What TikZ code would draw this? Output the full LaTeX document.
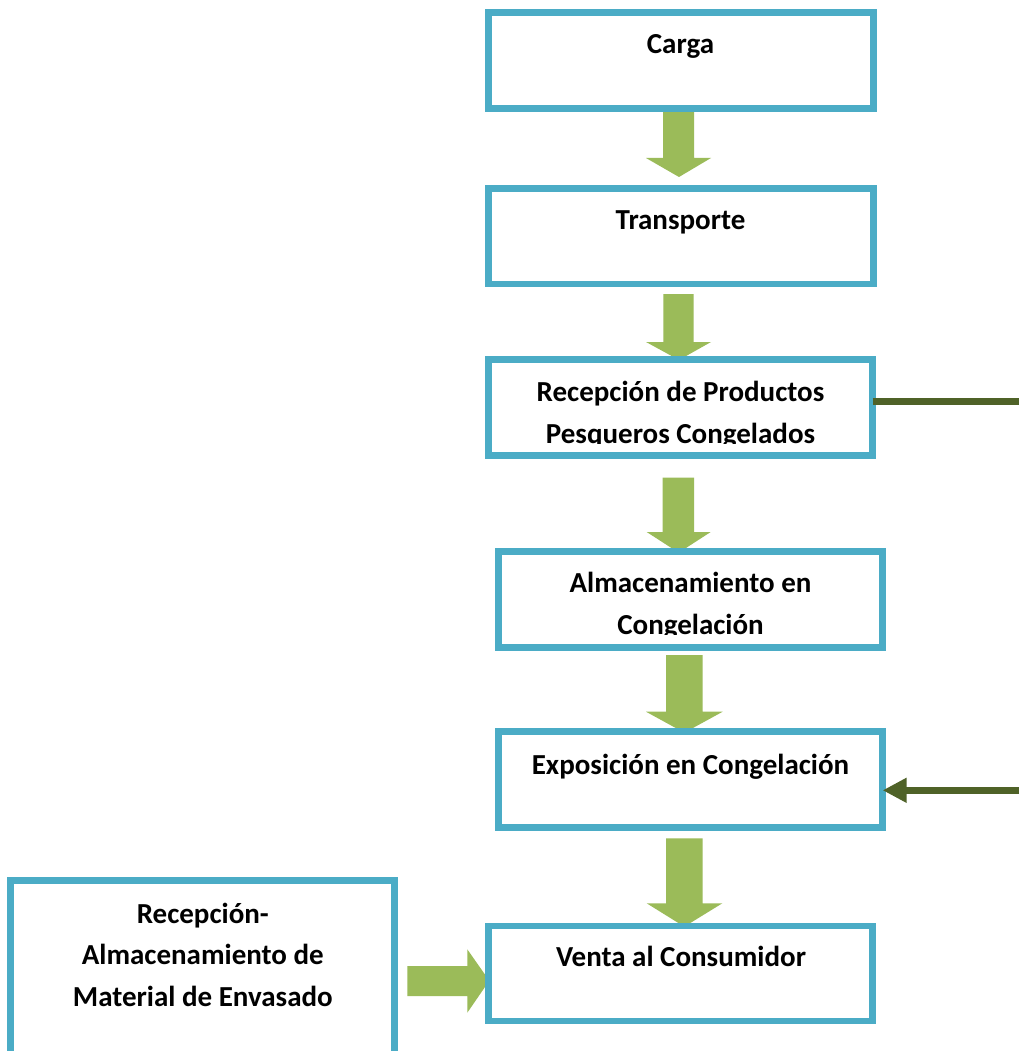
\documentclass[tikz,border=0pt]{standalone}
\usepackage{fontspec}
\setmainfont{Carlito}
\usetikzlibrary{arrows.meta}

\definecolor{boxblue}{HTML}{4BACC6}
\definecolor{flowgreen}{HTML}{9BBB59}
\definecolor{linkgreen}{HTML}{4F6228}

\tikzset{
  stagebox/.style={draw=boxblue, line width=6.7pt, fill=white, rectangle,
    inner sep=0pt, outer sep=0pt},
  stagetext/.style={anchor=base, inner sep=0pt, outer sep=0pt,
    font=\fontsize{29}{42}\selectfont\bfseries},
  blockarrow/.style={fill=flowgreen, draw=none},
  sideline/.style={draw=linkgreen, line width=7.3pt},
  sidearrow/.style={draw=linkgreen, line width=7.3pt,
    -{Triangle[length=24pt,width=23.5pt]}}
}

% down-pointing block arrow: #1 shaft left, #2 shaft right, #3 head left,
% #4 head right, #5 tip x, #6 shaft top, #7 head top, #8 tip y
\newcommand{\downblock}[8]{%
  \fill[blockarrow] (#1,#6) -- (#2,#6) -- (#2,#7) -- (#4,#7) -- (#5,#8)
    -- (#3,#7) -- (#1,#7) -- cycle;}

\begin{document}
\begin{tikzpicture}[x=1pt, y=-1pt]
  \useasboundingbox (0,0) rectangle (1019,1051);
  \fill[white] (0,0) rectangle (1019,1051);

  % block arrows between the stages
  \downblock{663}{694}{646}{711}{679}{108}{158}{177}
  \downblock{663.3}{693.7}{646}{711}{679}{294}{342}{360}
  \downblock{662.7}{694}{646.7}{710.7}{678.7}{477.7}{532}{552.7}
  \downblock{666}{702.7}{646}{722.7}{684.3}{655}{711.7}{732.7}
  \downblock{666}{702.7}{646.7}{722.3}{684.3}{838.3}{903.3}{926.7}
  \fill[blockarrow] (407.3,966) -- (467.3,966) -- (467.3,949.3) -- (489.3,980.7)
    -- (467.3,1012.7) -- (467.3,996) -- (407.3,996) -- cycle;

  % stage boxes
  \node[stagebox, minimum width=385pt, minimum height=96pt]   (b1) at (680.85,60.35) {};
  \node[stagebox, minimum width=385pt, minimum height=95.6pt] (b2) at (680.85,236.15) {};
  \node[stagebox, minimum width=384.3pt, minimum height=95.8pt] (b3) at (680.5,407.25) {};
  \node[stagebox, minimum width=384.3pt, minimum height=95.7pt] (b4) at (690.5,599.5) {};
  \node[stagebox, minimum width=384.3pt, minimum height=96pt]   (b5) at (690.5,779.65) {};
  \node[stagebox, minimum width=384.3pt, minimum height=95pt]   (b6) at (680.5,973.5) {};
  \node[stagebox, minimum width=384pt, minimum height=173.5pt]  (b7) at (202.65,967.4) {};

  % stage labels
  \node[stagetext] (t1) at (680.5,53.3) {Carga};
  \node[stagetext] (t2) at (680.5,229.3) {Transporte};
  \begin{scope}
    \clip (491,360) rectangle (870,443.8);
    \node[stagetext] (t3a) at (680.5,401) {Recepción de Productos};
    \node[stagetext] (t3b) at (680.5,443) {Pesqueros Congelados};
  \end{scope}
  \begin{scope}
    \clip (501,552) rectangle (880,634.5);
    \node[stagetext] (t4a) at (690.5,592.7) {Almacenamiento en};
    \node[stagetext] (t4b) at (690.5,634) {Congelación};
  \end{scope}
  \node[stagetext] (t5) at (690.5,774.3) {Exposición en Congelación};
  \node[stagetext] (t6) at (681,966) {Venta al Consumidor};
  \node[stagetext] (t7a) at (202.8,923) {Recepción-};
  \node[stagetext] (t7b) at (202.8,964.5) {Almacenamiento de};
  \node[stagetext] (t7c) at (202.8,1006) {Material de Envasado};

  % side connectors running off the right edge
  \coordinate (outA) at (1019,401.3);
  \coordinate (inB)  at (1019,790.3);
  \draw[sideline]  (b3.east |- outA) -- (outA);
  \draw[sidearrow] (inB) -- (b5.east |- inB);
\end{tikzpicture}
\end{document}
